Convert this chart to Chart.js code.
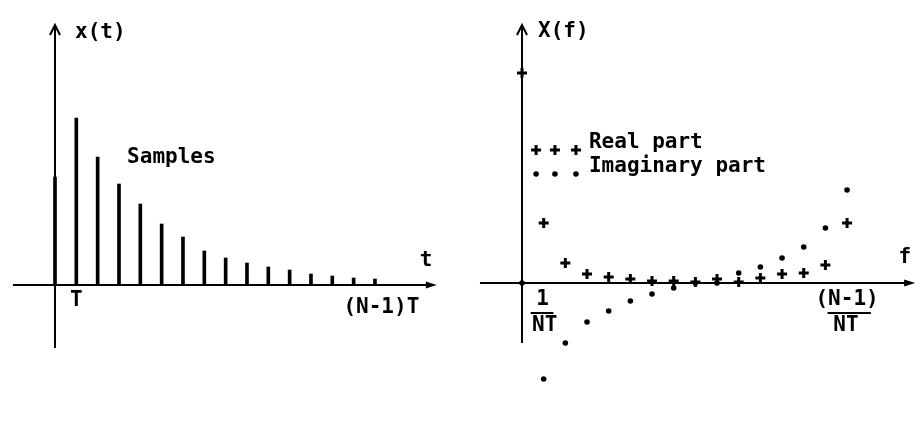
<!DOCTYPE html>
<html>
    <head>
        <script src="https://cdn.jsdelivr.net/npm/chart.js@4.4.1/dist/chart.umd.min.js"></script>
        <style>
            body { margin: 0; background: #fff; }
            .panel { position: absolute; top: 0; }
        </style>
    </head>
    <body>
        <div class="panel" style="left:0px"><canvas id="timeChart" width="462" height="422"></canvas></div>
        <div class="panel" style="left:462px"><canvas id="freqChart" width="462" height="422"></canvas></div>
    </body>
    <script>
        // sample index k (t = kT, f = k/NT)
        const sampleIdx = [0, 1, 2, 3, 4, 5, 6, 7, 8, 9, 10, 11, 12, 13, 14, 15]
        // x(t) samples
        const samples = [1.08, 1.67, 1.28, 1.01, 0.81, 0.61, 0.48, 0.34, 0.27, 0.22, 0.18, 0.15, 0.11, 0.09, 0.07, 0.06]
        // X(f) real and imaginary parts
        const realPart = [2.10, 0.60, 0.20, 0.09, 0.06, 0.04, 0.02, 0.02, 0.01, 0.04, 0.01, 0.05, 0.09, 0.10, 0.18, 0.60]
        const imagPart = [0.00, -0.96, -0.60, -0.39, -0.28, -0.18, -0.11, -0.05, 0.00, 0.00, 0.10, 0.16, 0.25, 0.36, 0.55, 0.93]

        const legendNames = ['Real part', 'Imaginary part']
        const FONT = 'bold 21px "DejaVu Sans Mono"'

        const pts = (xs, ys) => xs.map((x, i) => ({x: x, y: ys[i]}))

        // axis line as a plain 2-point line dataset
        const axisLine = (x0, y0, x1, y1) => ({
            type: 'line',
            data: [{x: x0, y: y0}, {x: x1, y: y1}],
            borderColor: '#000',
            borderWidth: 2,
            pointRadius: 0,
            order: 5
        })

        // text + arrowheads drawn in data coordinates
        const annot = (items) => ({
            id: 'annot',
            afterDatasetsDraw(chart) {
                const ctx = chart.ctx
                const sx = chart.scales.x, sy = chart.scales.y
                const px = (v) => sx.getPixelForValue(v)
                const py = (v) => sy.getPixelForValue(v)
                ctx.save()
                ctx.fillStyle = '#000'
                ctx.strokeStyle = '#000'
                ctx.font = FONT
                ctx.textBaseline = 'middle'
                items.forEach((it) => {
                    if (it.text) {
                        ctx.textAlign = it.align || 'left'
                        ctx.fillText(it.text, px(it.x), py(it.y))
                    } else if (it.bar) {
                        ctx.lineWidth = 2
                        ctx.beginPath()
                        ctx.moveTo(px(it.x0), py(it.y))
                        ctx.lineTo(px(it.x1), py(it.y))
                        ctx.stroke()
                    } else if (it.upArrow) {
                        const x = px(it.x), y = py(it.y)
                        ctx.lineWidth = 2
                        ctx.beginPath()
                        ctx.moveTo(x - 5, y + 10)
                        ctx.lineTo(x, y)
                        ctx.lineTo(x + 5, y + 10)
                        ctx.stroke()
                    } else if (it.rightArrow) {
                        const x = px(it.x), y = py(it.y)
                        ctx.beginPath()
                        ctx.moveTo(x, y)
                        ctx.lineTo(x - 11, y - 3.5)
                        ctx.lineTo(x - 11, y + 3.5)
                        ctx.closePath()
                        ctx.fill()
                    } else if (it.plus) {
                        const x = px(it.x), y = py(it.y)
                        ctx.lineWidth = 3
                        ctx.beginPath()
                        ctx.moveTo(x - 5, y); ctx.lineTo(x + 5, y)
                        ctx.moveTo(x, y - 5); ctx.lineTo(x, y + 5)
                        ctx.stroke()
                    } else if (it.dot) {
                        ctx.beginPath()
                        ctx.arc(px(it.x), py(it.y), 2.8, 0, Math.PI * 2)
                        ctx.fill()
                    }
                })
                ctx.restore()
            }
        })

        const baseOptions = (xmin, xmax, ymin, ymax) => ({
            responsive: false,
            animation: false,
            layout: { padding: 0, autoPadding: false },
            plugins: { legend: { display: false }, tooltip: { enabled: false } },
            scales: {
                x: { type: 'linear', display: false, offset: false, min: xmin, max: xmax },
                y: { type: 'linear', display: false, min: ymin, max: ymax }
            }
        })

        // left: time samples
        new Chart(document.getElementById('timeChart'), {
            type: 'line',
            data: {
                datasets: [
                    {
                        type: 'bar',
                        data: pts(sampleIdx, samples),
                        backgroundColor: '#000',
                        barThickness: 3,
                        order: 1
                    },
                    axisLine(-1.97, 0, 17.75, 0),
                    axisLine(0, -0.63, 0, 2.58)
                ]
            },
            options: baseOptions(-2.578, 19.08, -1.37, 2.85),
            plugins: [annot([
                {upArrow: true, x: 0, y: 2.60},
                {rightArrow: true, x: 17.9, y: 0},
                {text: 'x(t)', x: 0.94, y: 2.52},
                {text: 'Samples', x: 3.38, y: 1.27},
                {text: 't', x: 17.39, y: 0.24, align: 'center'},
                {text: 'T', x: 1, y: -0.16, align: 'center'},
                {text: '(N-1)T', x: 15.3, y: -0.23, align: 'center'}
            ])]
        })

        // right: spectrum
        new Chart(document.getElementById('freqChart'), {
            type: 'line',
            data: {
                datasets: [
                    {
                        type: 'scatter',
                        label: legendNames[0],
                        data: pts(sampleIdx, realPart),
                        pointStyle: 'cross',
                        pointRadius: 5,
                        borderColor: '#000',
                        borderWidth: 3,
                        showLine: false,
                        order: 1
                    },
                    {
                        type: 'scatter',
                        label: legendNames[1],
                        data: pts(sampleIdx, imagPart),
                        pointStyle: 'circle',
                        pointRadius: 2.8,
                        backgroundColor: '#000',
                        borderWidth: 0,
                        showLine: false,
                        order: 2
                    },
                    axisLine(-1.94, 0, 18.0, 0),
                    axisLine(0, -0.60, 0, 2.56)
                ]
            },
            options: baseOptions(-2.769, 18.55, -1.39, 2.83),
            plugins: [annot([
                {upArrow: true, x: 0, y: 2.58},
                {rightArrow: true, x: 18.14, y: 0},
                {text: 'X(f)', x: 0.74, y: 2.51},
                {text: 'f', x: 17.67, y: 0.25, align: 'center'},
                {plus: true, x: 0.65, y: 1.33}, {plus: true, x: 1.52, y: 1.33}, {plus: true, x: 2.49, y: 1.33},
                {dot: true, x: 0.65, y: 1.09}, {dot: true, x: 1.52, y: 1.09}, {dot: true, x: 2.49, y: 1.09},
                {text: legendNames[0], x: 3.09, y: 1.40},
                {text: legendNames[1], x: 3.09, y: 1.16},
                {text: '1', x: 0.95, y: -0.17, align: 'center'},
                {bar: true, x0: 0.40, x1: 1.45, y: -0.30},
                {text: 'NT', x: 1.05, y: -0.43, align: 'center'},
                {text: '(N-1)', x: 15.0, y: -0.17, align: 'center'},
                {bar: true, x0: 14.1, x1: 16.1, y: -0.30},
                {text: 'NT', x: 14.95, y: -0.43, align: 'center'}
            ])]
        })
    </script>
</html>
